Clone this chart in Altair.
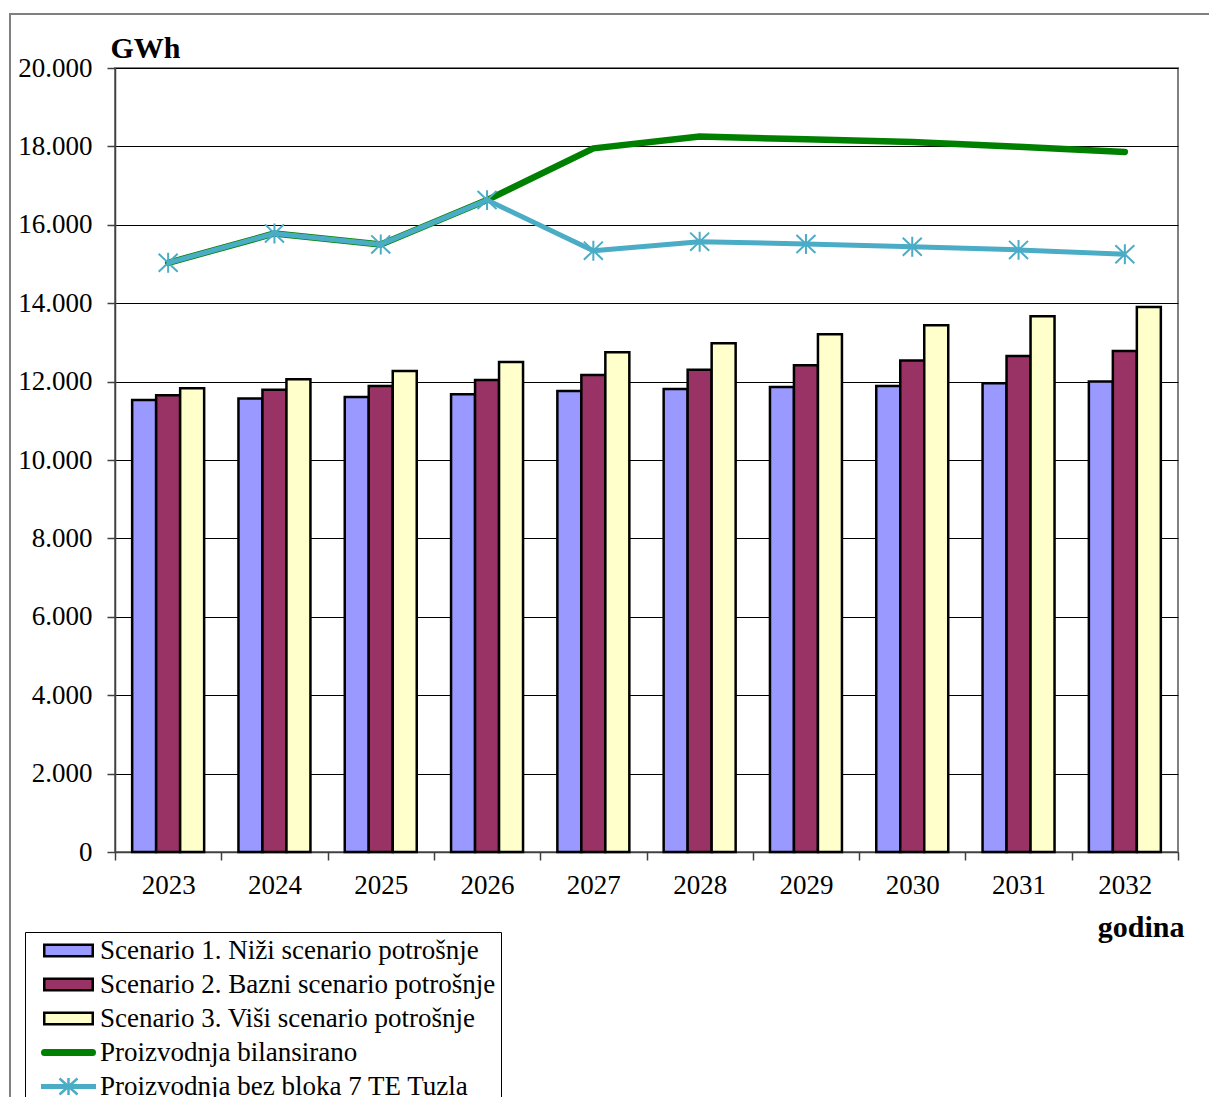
import altair as alt
import pandas as pd

# Years on the category axis
years = ["2023", "2024", "2025", "2026", "2027", "2028", "2029", "2030", "2031", "2032"]

# Consumption scenarios (GWh)
scenario_1 = [11530, 11570, 11610, 11680, 11760, 11810, 11860, 11890, 11960, 12000]
scenario_2 = [11650, 11790, 11890, 12040, 12170, 12300, 12420, 12540, 12650, 12780]
scenario_3 = [11830, 12060, 12270, 12500, 12750, 12980, 13210, 13440, 13670, 13900]

# Production (GWh)
prod_balanced = [15030, 15780, 15500, 16630, 17950, 18250, 18180, 18110, 17990, 17860]
prod_without_b7 = [15030, 15780, 15500, 16630, 15340, 15570, 15510, 15440, 15360, 15250]

series_names = [
    "Scenario 1. Niži scenario potrošnje",
    "Scenario 2. Bazni scenario potrošnje",
    "Scenario 3. Viši scenario potrošnje",
    "Proizvodnja bilansirano",
    "Proizvodnja bez bloka 7 TE Tuzla",
]

FONT = "Liberation Serif"
C_S1, C_S2, C_S3 = "#9999FF", "#993366", "#FFFFCC"
C_GREEN, C_CYAN = "#008000", "#4BACC6"

bars = pd.DataFrame(
    [
        {"year": y, "series": s, "value": v}
        for s, vals in zip(series_names[:3], [scenario_1, scenario_2, scenario_3])
        for y, v in zip(years, vals)
    ]
)
green_df = pd.DataFrame({"year": years, "value": prod_balanced})
cyan_df = pd.DataFrame({"year": years, "value": prod_without_b7})
legend_df = pd.DataFrame({"year": [years[0]] * 5, "series": series_names, "value": [None] * 5})

W, H = 1063, 784

# Bands fill the whole step so the ticks sit between the year groups
x_scale = alt.Scale(paddingInner=0, paddingOuter=0)
x_enc = alt.X(
    "year:N",
    sort=years,
    scale=x_scale,
    axis=alt.Axis(
        title="godina",
        titleFont=FONT,
        titleFontSize=30,
        titleFontWeight="bold",
        titleColor="#000",
        titleAlign="right",
        titleAnchor="end",
        titleBaseline="alphabetic",
        titleX=1069,
        titleY=84,
        labelFont=FONT,
        labelFontSize=27,
        labelColor="#000",
        labelAngle=0,
        labelPadding=12,
        tickSize=8,
        tickColor="#404040",
        tickWidth=1.5,
        tickBand="extent",
        domainColor="#404040",
        domainWidth=1.5,
        grid=False,
    ),
)

y_scale = alt.Scale(domain=[0, 20000], nice=False)
y_axis = alt.Axis(
    values=list(range(0, 20001, 2000)),
    labelExpr="replace(format(datum.value, ',.0f'), ',', '.')",
    title="GWh",
    titleFont=FONT,
    titleFontSize=30,
    titleFontWeight="bold",
    titleColor="#000",
    titleAngle=0,
    titleAlign="left",
    titleBaseline="alphabetic",
    titleX=-5,
    titleY=-11,
    labelFont=FONT,
    labelFontSize=27,
    labelColor="#000",
    labelPadding=15,
    tickSize=8,
    tickColor="#404040",
    tickWidth=1.5,
    domainColor="#404040",
    domainWidth=1.5,
    grid=True,
    gridColor="#000",
    gridWidth=1,
)

bar_color_scale = alt.Scale(domain=series_names[:3], range=[C_S1, C_S2, C_S3])
fill_scale = alt.Scale(domain=series_names, range=[C_S1, C_S2, C_S3, C_GREEN, C_CYAN])
stroke_scale = alt.Scale(domain=series_names, range=["#000", "#000", "#000", C_GREEN, C_CYAN])

RECT = "M-2.425,-0.575H2.425V0.575H-2.425Z"
GREEN_KEY = "M-2.4,-0.225H2.4A0.225,0.225 0 0 1 2.4,0.225H-2.4A0.225,0.225 0 0 1 -2.4,-0.225Z"
CYAN_KEY = ("M-2.625,-0.125H2.625V0.125H-2.625Z"
            "M-0.9,-0.8L0.9,0.8M-0.9,0.8L0.9,-0.8M0,-0.85V0.85")
shape_scale = alt.Scale(domain=series_names, range=[RECT, RECT, RECT, GREEN_KEY, CYAN_KEY])

ASTERISK = "M-1,-0.95L1,0.95M-1,0.95L1,-0.95M0,-1.05V1.05"

# Outer chart border
frame = alt.Chart(alt.Data(values=[{"k": 0}])).mark_rect(
    fill="white", fillOpacity=0, stroke="#808080", strokeWidth=2
).encode(
    x=alt.value(-105), x2=alt.value(W + 60),
    y=alt.value(-54), y2=alt.value(H + 300),
)

bar_layer = alt.Chart(bars).mark_bar(stroke="#000", strokeWidth=2.5, opacity=1).encode(
    x=x_enc,
    xOffset=alt.XOffset("series:N", sort=series_names[:3],
                        scale=alt.Scale(domain=series_names[:3], paddingInner=0, paddingOuter=0.715)),
    y=alt.Y("value:Q", scale=y_scale, axis=y_axis),
    color=alt.Color("series:N", scale=bar_color_scale, legend=None),
)

green_line = alt.Chart(green_df).mark_line(
    color=C_GREEN, strokeWidth=6.5, strokeCap="round", strokeJoin="round"
).encode(x=alt.X("year:N", sort=years), y=alt.Y("value:Q", scale=y_scale))

cyan_line = alt.Chart(cyan_df).mark_line(
    color=C_CYAN, strokeWidth=5, strokeJoin="round"
).encode(x=alt.X("year:N", sort=years), y=alt.Y("value:Q", scale=y_scale))

cyan_marks = alt.Chart(cyan_df).mark_point(
    shape=ASTERISK, size=361, filled=False, stroke=C_CYAN, strokeWidth=2, opacity=1
).encode(x=alt.X("year:N", sort=years), y=alt.Y("value:Q", scale=y_scale))

# Legend carrier: one key per series, no visible points
legend_layer = alt.Chart(legend_df).mark_point(
    filled=True, size=400, opacity=1, strokeWidth=2.5
).encode(
    x=alt.X("year:N", sort=years),
    y=alt.Y("value:Q", scale=y_scale),
    fill=alt.Fill("series:N", scale=fill_scale, legend=alt.Legend(title=None)),
    stroke=alt.Stroke("series:N", scale=stroke_scale, legend=alt.Legend(title=None)),
    shape=alt.Shape(
        "series:N",
        scale=shape_scale,
        legend=alt.Legend(
            title=None,
            orient="none",
            legendX=-90,
            legendY=864,
            strokeColor="#000",
            fillColor="white",
            padding=5,
            symbolSize=400,
            symbolOffset=25,
            symbolStrokeWidth=2.5,
            symbolOpacity=1,
            labelOffset=18,
            labelFont=FONT,
            labelFontSize=27,
            labelColor="#000",
            labelLimit=600,
            rowPadding=6,
        ),
    ),
)

chart = (
    alt.layer(frame, bar_layer, green_line, cyan_line, cyan_marks, legend_layer)
    .properties(
        width=W,
        height=H,
        autosize=alt.AutoSizeParams(type="none"),
        padding={"left": 115, "top": 68, "right": 31, "bottom": 245},
        background="white",
    )
    .configure_view(stroke="#808080", strokeWidth=2)
)

chart.save("out.html", embed_options={"renderer": "svg", "actions": False})
